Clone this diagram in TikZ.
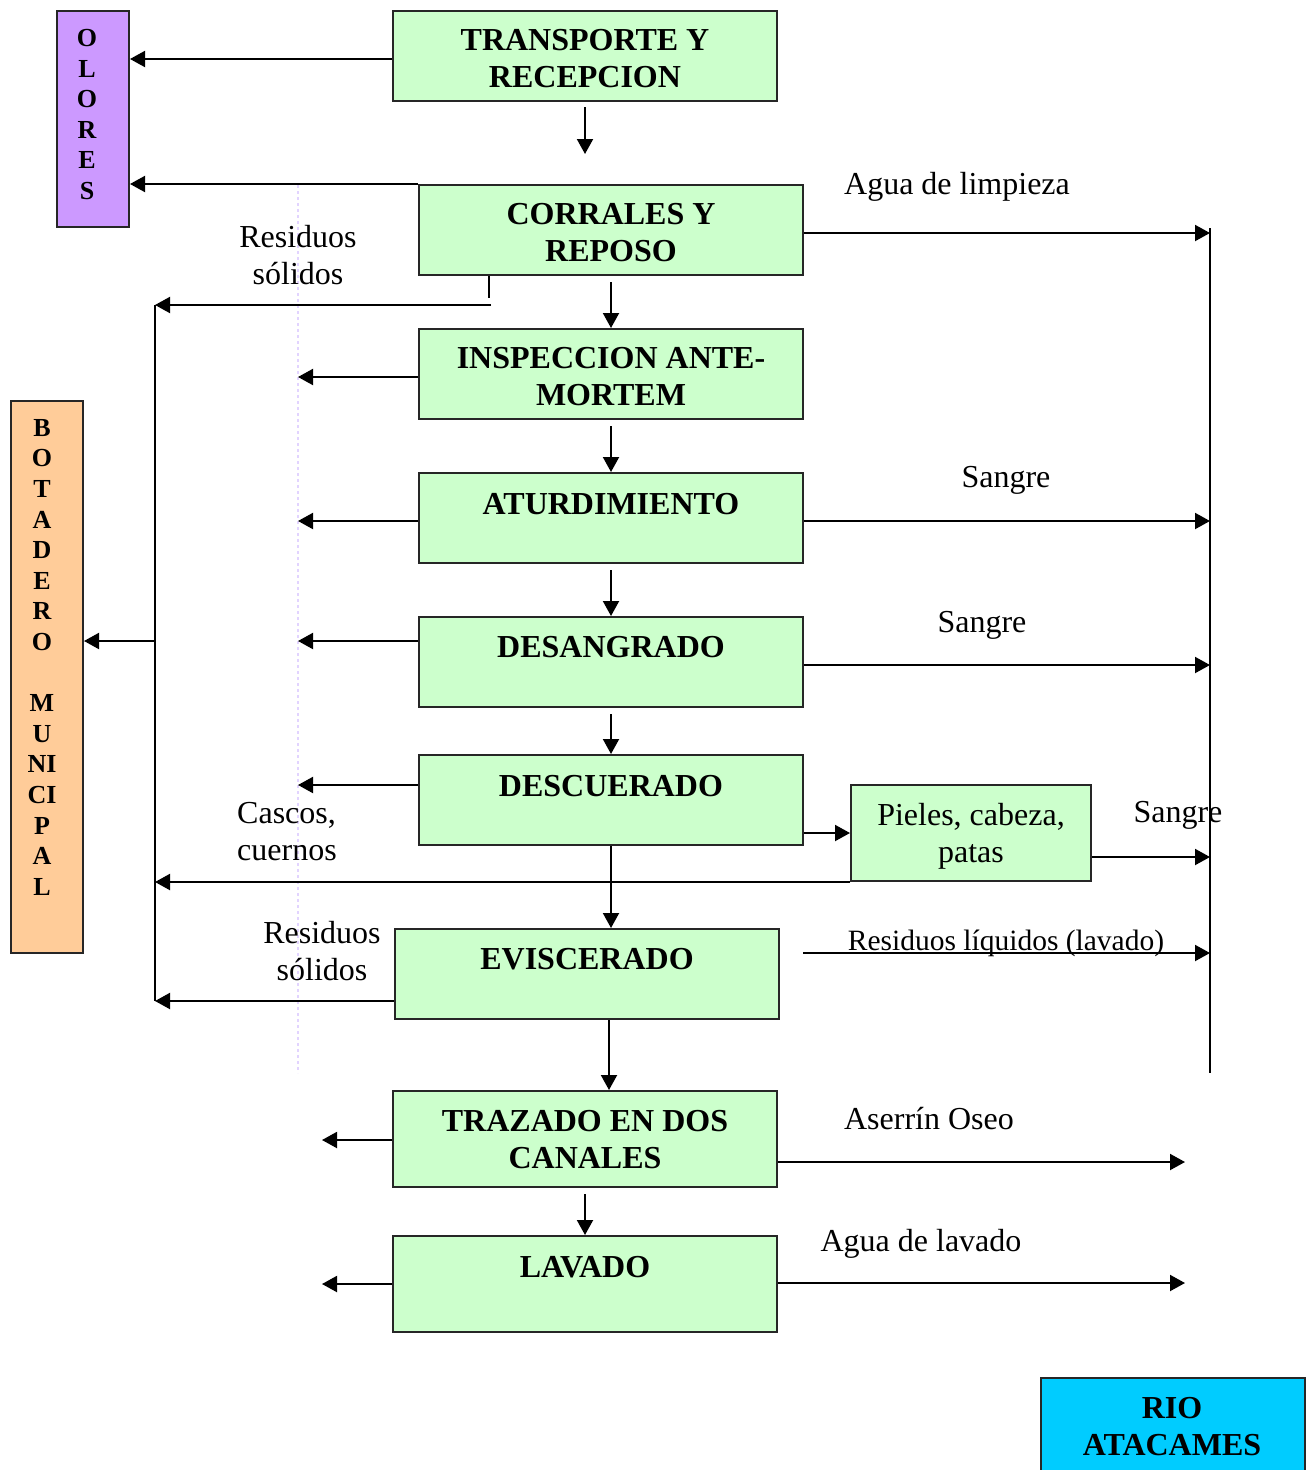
\documentclass[tikz,border=0pt]{standalone}
\usepackage{fontspec}
\setmainfont{Liberation Serif}
\usetikzlibrary{arrows.meta}
\definecolor{boxgreen}{HTML}{CCFFCC}
\definecolor{boxpurple}{HTML}{CC99FF}
\definecolor{boxorange}{HTML}{FFCC99}
\definecolor{boxcyan}{HTML}{00CCFF}
\definecolor{guide}{HTML}{E2D4FF}
\tikzset{
  box/.style={draw=black!85, line width=2pt, inner sep=0pt, fill=boxgreen, minimum width=384pt, minimum height=90pt},
  ttl/.style={inner sep=0pt, align=center, anchor=north, font=\fontsize{32}{37}\selectfont\bfseries},
  lbl/.style={inner sep=0pt, align=center, anchor=north, font=\fontsize{32}{37.5}\selectfont},
  vert/.style={inner sep=0pt, align=center, anchor=north, font=\fontsize{26}{30.6}\selectfont\bfseries},
  conn/.style={line width=2pt, black},
  arr/.style={conn, -{Triangle[length=15pt,width=16pt]}},
}
\begin{document}
\begin{tikzpicture}[x=1pt,y=-1pt]
\useasboundingbox (0,0) rectangle (1315,1470);
\clip (0,0) rectangle (1315,1470);
\fill[white] (0,0) rectangle (1315,1470);

% guide dashed line
\coordinate (gtop) at (298,185);
\coordinate (gbot) at (298,1073);
\draw[guide, line width=1.2pt, dashed] (gtop) -- (gbot);

% side boxes
\node[box, fill=boxpurple, minimum width=72pt, minimum height=216pt] (ol) at (93,119) {};
\node[vert] (olt) at (87,29) {O\\L\\O\\R\\E\\S};
\node[box, fill=boxorange, minimum width=72pt, minimum height=552pt] (bo) at (47,677) {};
\node[vert] (bot) at (42,419) {B\\O\\T\\A\\D\\E\\R\\O\\~\\M\\U\\NI\\CI\\P\\A\\L};
\node[box, fill=boxcyan, minimum width=264pt, minimum height=110pt] (rio) at (1173,1433) {};
\node[ttl] (riot) at (1172,1397) {RIO\\ATACAMES};

% process boxes
\node[box] (tr) at (585,56) {};
\node[ttl] (trt) at (585,29) {TRANSPORTE Y\\RECEPCION};
\node[box] (co) at (611,230) {};
\node[ttl] (cot) at (611,203) {CORRALES Y\\REPOSO};
\node[box] (in) at (611,374) {};
\node[ttl] (int) at (611,347) {INSPECCION ANTE-\\MORTEM};
\node[box] (at) at (611,518) {};
\node[ttl] (att) at (611,493) {ATURDIMIENTO};
\node[box] (de) at (611,662) {};
\node[ttl] (det) at (611,636) {DESANGRADO};
\node[box] (dc) at (611,800) {};
\node[ttl] (dct) at (611,775) {DESCUERADO};
\node[box, minimum width=240pt, minimum height=96pt] (ps) at (971,833) {};
\node[lbl] (pst) at (971,803) {Pieles, cabeza,\\patas};
\node[box] (ev) at (587,974) {};
\node[ttl] (evt) at (587,948) {EVISCERADO};
\node[box, minimum height=96pt] (tz) at (585,1139) {};
\node[ttl] (tzt) at (585,1110) {TRAZADO EN DOS\\CANALES};
\node[box, minimum height=96pt] (lv) at (585,1284) {};
\node[ttl] (lvt) at (585,1256) {LAVADO};

% collector lines
\coordinate (rtop) at (1210,228);
\coordinate (rbot) at (1210,1073);
\draw[conn] (rtop) -- (rbot);
\coordinate (ltop) at (155,305);
\coordinate (lbot) at (155,1001);
\draw[conn] (ltop) -- (lbot);

% main flow
\coordinate (a1) at (585,107);
\coordinate (a2) at (585,154);
\draw[arr] (a1) -- (a2);
\draw[arr] ([yshift=-6pt]co.south) -- (in.north);
\draw[arr] ([yshift=-6pt]in.south) -- (at.north);
\draw[arr] ([yshift=-6pt]at.south) -- (de.north);
\draw[arr] ([yshift=-6pt]de.south) -- (dc.north);
\draw[arr] (dc.south) -- (dc.south |- ev.north);
\draw[arr] (ev.south -| 609,0) -- (tz.north -| 609,0);
\draw[arr] ([yshift=-6pt]tz.south) -- (lv.north);

% odours
\draw[arr] ([yshift=-3pt]tr.west) -- ([yshift=-3pt]tr.west -| ol.east);
\draw[arr] (co.north west) -- (co.north west -| ol.east);

% left outputs
\coordinate (t1) at (489,276);
\coordinate (t2) at (489,298);
\draw[conn] (t1) -- (t2);
\coordinate (s1) at (491,305);
\draw[arr] (s1) -- (ltop);
\draw[arr] ([yshift=-3pt]in.west) -- ([yshift=-3pt]in.west -| gtop);
\draw[arr] ([yshift=-3pt]at.west) -- ([yshift=-3pt]at.west -| gtop);
\draw[arr] ([yshift=21pt]de.west) -- ([yshift=21pt]de.west -| gtop);
\draw[arr] ([yshift=15pt]dc.west) -- ([yshift=15pt]dc.west -| gtop);
\draw[arr] (ps.south west) -- (ps.south west -| ltop);
\draw[arr] ([yshift=-27pt]ev.west) -- (lbot);
\draw[arr] ([yshift=36pt]bo.east -| ltop) -- ([yshift=36pt]bo.east);
\draw[arr] ([yshift=-1pt]tz.west) -- ([yshift=-1pt]tz.west -| 322,0);
\draw[arr] (lv.west) -- (lv.west -| 322,0);

% right outputs
\draw[arr] ([yshift=-3pt]co.east) -- ([yshift=-3pt]co.east -| rtop);
\draw[arr] ([yshift=-3pt]at.east) -- ([yshift=-3pt]at.east -| rtop);
\draw[arr] ([yshift=-3pt]de.east) -- ([yshift=-3pt]de.east -| rtop);
\draw[arr] ([yshift=-33pt]dc.east) -- ([yshift=-33pt]dc.east -| ps.west);
\draw[arr] ([yshift=-24pt]ps.east) -- ([yshift=-24pt]ps.east -| rtop);
\coordinate (rl) at (803,953);
\draw[arr] (rl) -- (rl -| rtop);
\draw[arr] ([yshift=-23pt]tz.east) -- ([yshift=-23pt]tz.east -| 1185,0);
\draw[arr] ([yshift=1pt]lv.east) -- ([yshift=1pt]lv.east -| 1185,0);

% labels
\node[lbl] (l1) at (957,172) {Agua de limpieza};
\node[lbl] (l2) at (298,225) {Residuos\\sólidos};
\node[lbl] (l3) at (1006,466) {Sangre};
\node[lbl] (l4) at (982,611) {Sangre};
\node[lbl, align=left, anchor=north west] (l5) at (237,802) {Cascos,\\cuernos};
\node[lbl] (l6) at (1178,801) {Sangre};
\node[lbl] (l7) at (322,921) {Residuos\\sólidos};
\node[lbl, font=\fontsize{29.5}{34}\selectfont] (l8) at (1006,930) {Residuos líquidos (lavado)};
\node[lbl] (l9) at (929,1107) {Aserrín Oseo};
\node[lbl] (l10) at (921,1229) {Agua de lavado};
\end{tikzpicture}
\end{document}
